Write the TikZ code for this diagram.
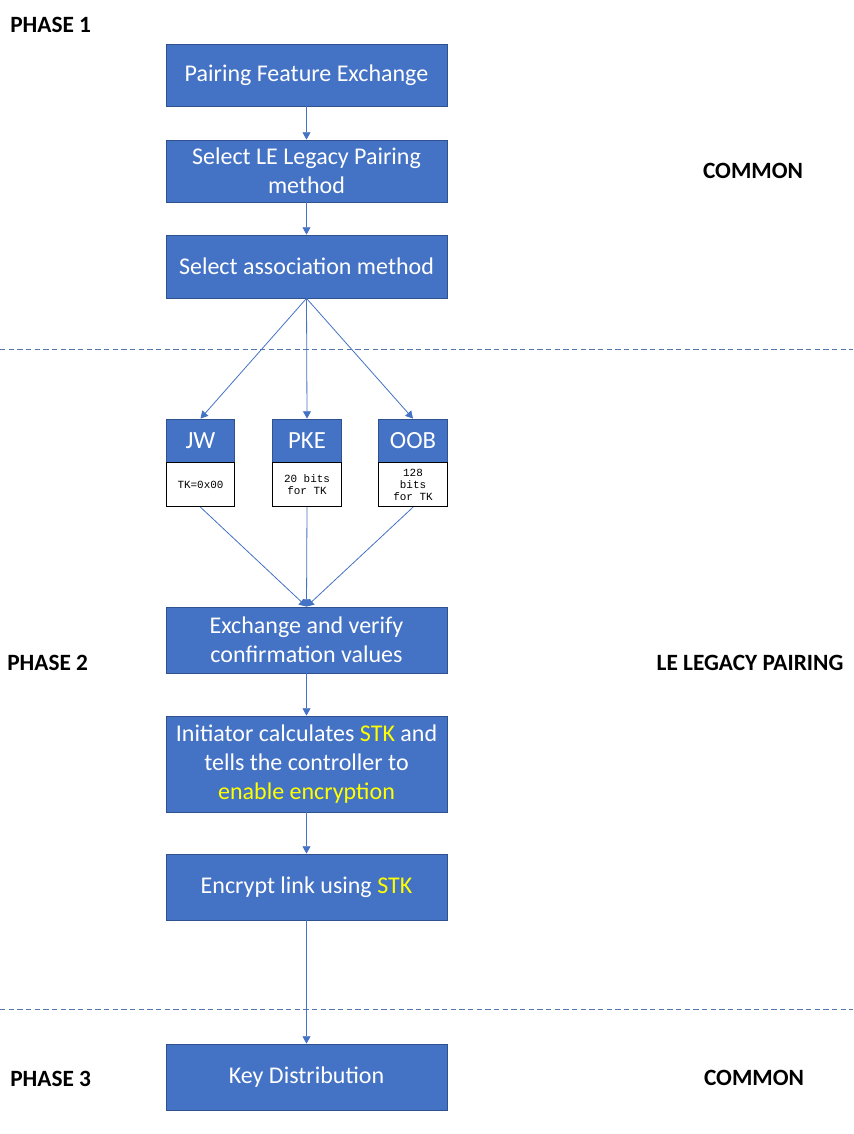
\documentclass[tikz,border=0pt]{standalone}
\usepackage{fontspec}
\setmainfont{Carlito}
\newfontfamily\monofont{Liberation Mono}
\usetikzlibrary{arrows.meta}
\definecolor{boxblue}{HTML}{4472C4}
\definecolor{boxedge}{HTML}{2F528F}
\definecolor{hl}{HTML}{FFFF00}
\begin{document}
\begin{tikzpicture}[x=0.75pt,y=-0.75pt,
  bluebox/.style={draw=boxedge, fill=boxblue, text=white, line width=0.6pt,
    minimum width=210.75pt, inner sep=0pt, align=center,
    font=\fontsize{18}{21.75}\selectfont},
  hdrbox/.style={draw=boxedge, fill=boxblue, text=white, line width=0.6pt,
    minimum width=51.5pt, minimum height=32.25pt, inner sep=0pt,
    font=\fontsize{18.5}{21}\selectfont},
  tkbox/.style={draw=black, fill=white, line width=0.6pt,
    minimum width=51.5pt, minimum height=33pt, inner sep=0pt, align=center,
    font=\monofont\fontsize{8.2}{9.3}\selectfont},
  phase/.style={font=\bfseries\fontsize{17.5}{20}\selectfont, inner sep=0pt},
  conn/.style={draw=boxblue, line width=0.6pt, -{Triangle[width=6pt,length=5.5pt]}},
  sep/.style={draw=boxblue!70!gray, line width=0.6pt, dash pattern=on 4pt off 2.5pt}
]
\useasboundingbox (0,0) rectangle (853,1134);
\fill[white] (0,0) rectangle (853,1134);

% separators
\coordinate (s1l) at (0,349); \coordinate (s1r) at (853,349);
\coordinate (s2l) at (0,1009); \coordinate (s2r) at (853,1009);
\draw[sep] (s1l) -- (s1r);
\draw[sep] (s2l) -- (s2r);

% labels
\node[phase, anchor=west] (p1) at (10,25) {PHASE 1};
\node[phase] (c1) at (753,171) {COMMON};
\node[phase, anchor=west] (p2) at (7,663) {PHASE 2};
\node[phase] (lp) at (750,663) {LE LEGACY PAIRING};
\node[phase, anchor=west] (p3) at (10,1079) {PHASE 3};
\node[phase] (c3) at (754,1078) {COMMON};

% main boxes
\node[bluebox, minimum height=46.5pt] (pfe) at (306.5,75) {Pairing Feature Exchange};
\node[bluebox, minimum height=46.5pt] (sel) at (306.5,171) {Select LE Legacy Pairing\\method};
\node[bluebox, minimum height=47.25pt] (asc) at (306.5,266.5) {Select association method};

% method boxes
\node[hdrbox] (jw) at (200.5,440.5) {JW};
\node[tkbox, anchor=north] (jwb) at (jw.south) {TK=0x00};
\node[hdrbox] (pke) at (307,440.5) {PKE};
\node[tkbox, anchor=north] (pkeb) at (pke.south) {20 bits\\for TK};
\node[hdrbox] (oob) at (413,440.5) {OOB};
\node[tkbox, anchor=north] (oobb) at (oob.south) {128\\bits\\for TK};

\node[bluebox, minimum height=49.5pt] (exc) at (306.5,640) {Exchange and verify\\confirmation values};
\node[bluebox, minimum height=72pt] (ini) at (306.5,764) {Initiator calculates \textcolor{hl}{STK} and\\tells the controller to\\\textcolor{hl}{enable encryption}};
\node[bluebox, minimum height=49.5pt] (enc) at (306.5,887) {Encrypt link using \textcolor{hl}{STK}};
\node[bluebox, minimum height=49.5pt] (kd) at (306.5,1077) {Key Distribution};

% connectors
\draw[conn] (pfe.south) -- (sel.north);
\draw[conn] (sel.south) -- (asc.north);
\draw[conn] (asc.south) -- (jw.north);
\draw[conn] (asc.south) -- (pke.north);
\draw[conn] (asc.south) -- (oob.north);
\draw[conn] (jwb.south) -- (exc.north);
\draw[conn] (pkeb.south) -- (exc.north);
\draw[conn] (oobb.south) -- (exc.north);
\draw[conn] (exc.south) -- (ini.north);
\draw[conn] (ini.south) -- (enc.north);
\draw[conn] (enc.south) -- (kd.north);
\end{tikzpicture}
\end{document}
